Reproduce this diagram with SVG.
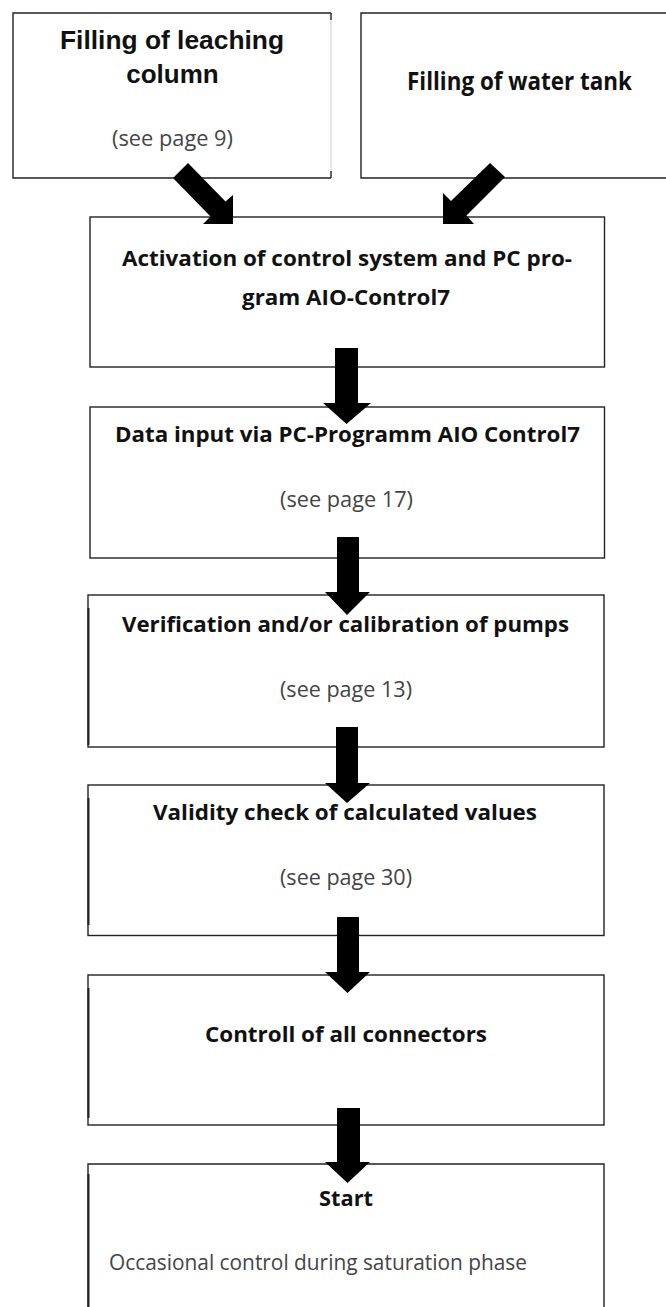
<svg xmlns="http://www.w3.org/2000/svg" width="666" height="1307" viewBox="0 0 666 1307">
<style>
.box{fill:#fff;stroke:#222;stroke-width:1.4}
.edge{fill:none;stroke:#222;stroke-width:1.4}
.ar{font-family:"Liberation Sans",Arial,sans-serif;font-weight:700;font-size:26px;fill:#111;text-anchor:middle}
.hd{font-family:"Open Sans","Noto Sans",sans-serif;font-weight:700;font-size:22px;fill:#111;text-anchor:middle}
.sub{font-family:"Open Sans","Noto Sans",sans-serif;font-weight:400;font-size:21px;fill:#444;text-anchor:middle}
.arrow{fill:#000;stroke:none}
</style>
<rect width="666" height="1307" fill="#fff"/>
<g id="n1">
  <path class="edge" d="M331,13 H13 V178 H331"/>
  <path d="M331,20 V171" fill="none" stroke="#ccc" stroke-width="1"/>
  <path class="edge" d="M331,13 V20 M331,171 V178"/>
  <text class="ar" x="172" y="49" textLength="224" lengthAdjust="spacingAndGlyphs">Filling of leaching</text>
  <text class="ar" x="172.5" y="83">column</text>
  <text class="sub" x="172.5" y="146" textLength="121" lengthAdjust="spacingAndGlyphs">(see page 9)</text>
</g>
<g id="n2">
  <path class="edge" d="M670,13 H361 V178 H670"/>
  <text class="hd" x="519.5" y="90" style="font-size:25px" textLength="225" lengthAdjust="spacingAndGlyphs">Filling of water tank</text>
</g>
<g id="n3">
  <rect class="box" x="90" y="217" width="514.5" height="150"/>
  <text class="hd" x="347" y="266" textLength="450" lengthAdjust="spacingAndGlyphs">Activation of control system and PC pro-</text>
  <text class="hd" x="346" y="305" textLength="208" lengthAdjust="spacingAndGlyphs">gram AIO-Control7</text>
</g>
<g id="n4">
  <rect class="box" x="90" y="407" width="514.5" height="151"/>
  <text class="hd" x="347.5" y="442" textLength="465" lengthAdjust="spacingAndGlyphs">Data input via PC-Programm AIO Control7</text>
  <text class="sub" x="346.5" y="507" textLength="133" lengthAdjust="spacingAndGlyphs">(see page 17)</text>
</g>
<g id="n5">
  <rect class="box" x="88" y="595" width="516" height="152"/>
  <path class="edge" d="M88.5,608 V745" style="stroke-width:2"/>
  <text class="hd" x="345.5" y="632" textLength="447" lengthAdjust="spacingAndGlyphs">Verification and/or calibration of pumps</text>
  <text class="sub" x="346" y="697" textLength="132" lengthAdjust="spacingAndGlyphs">(see page 13)</text>
</g>
<g id="n6">
  <rect class="box" x="88" y="785" width="516" height="150.5"/>
  <path class="edge" d="M88.5,798 V925" style="stroke-width:2"/>
  <text class="hd" x="345" y="820" textLength="384" lengthAdjust="spacingAndGlyphs">Validity check of calculated values</text>
  <text class="sub" x="346" y="885" textLength="132" lengthAdjust="spacingAndGlyphs">(see page 30)</text>
</g>
<g id="n7">
  <rect class="box" x="88" y="975" width="516" height="150"/>
  <path class="edge" d="M88.5,988 V1118" style="stroke-width:2"/>
  <text class="hd" x="346" y="1042" textLength="282" lengthAdjust="spacingAndGlyphs">Controll of all connectors</text>
</g>
<g id="n8">
  <path class="edge" d="M88,1312 V1164 H604 V1312"/>
  <path class="edge" d="M88.5,1174 V1307" style="stroke-width:2"/>
  <text class="hd" x="346" y="1206" textLength="54" lengthAdjust="spacingAndGlyphs">Start</text>
  <text class="sub" x="318" y="1270" textLength="418" lengthAdjust="spacingAndGlyphs">Occasional control during saturation phase</text>
</g>
<g id="connectors">
  <path class="arrow" d="M173,178 L188,163 L225.5,201.5 L233,195 L233,224 L203,224 L210.5,216.5 Z"/>
  <path class="arrow" d="M490,163 L505,177 L466.5,215.5 L474,224 L443,224 L443,193 L451,201 Z"/>
  <path class="arrow" d="M335,348 H358 V403 H371 L346.5,424 L323,403 H335 Z"/>
  <path class="arrow" d="M337,537 H359 V592 H370 L347,615 L325,592 H337 Z"/>
  <path class="arrow" d="M336,727 H358 V783 H370 L347,803 L325,783 H336 Z"/>
  <path class="arrow" d="M337,917 H359 V972 H370 L347.5,993 L325,972 H337 Z"/>
  <path class="arrow" d="M337,1108 H360 V1162 H370 L347.5,1183 L325,1162 H337 Z"/>
</g>
</svg>
